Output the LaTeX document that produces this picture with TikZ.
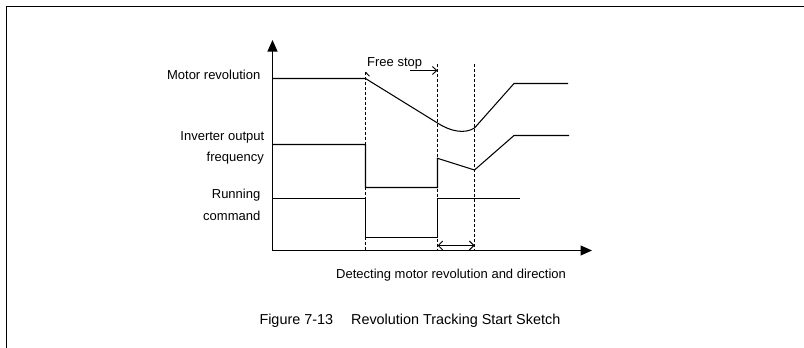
\documentclass[tikz,border=0pt]{standalone}
\usepackage{fontspec}
\setmainfont{Liberation Sans}
\usetikzlibrary{arrows.meta}
\begin{document}
\begin{tikzpicture}[x=1pt,y=-1pt,
  borderline/.style={line width=1.1pt},
  sig/.style={line width=1.05pt, line join=miter},
  guide/.style={line width=0.9pt, dash pattern=on 3pt off 2pt},
  axisline/.style={line width=1.05pt, -{Triangle[length=11.5pt,width=10pt]}},
  barb/.style={line width=0.9pt},
  lbl/.style={font=\fontsize{13}{15}\selectfont, inner sep=0pt, anchor=base east},
  txt/.style={font=\fontsize{13}{15}\selectfont, inner sep=0pt, anchor=base west},
  captext/.style={font=\fontsize{14.4}{17}\selectfont, inner sep=0pt, anchor=base west}]
\useasboundingbox (0,0) rectangle (804,348);
% frame (top and left edges only)
\coordinate (fbl) at (6.5,348);
\coordinate (ftl) at (6.5,6.5);
\coordinate (ftr) at (804,6.5);
\draw[borderline] (fbl) -- (ftl) -- (ftr);
% axes
\coordinate (O) at (272.5,250.5);
\coordinate (Ytip) at (272.5,40);
\coordinate (Xtip) at (592,250.5);
\draw[axisline] (O) -- (Ytip);
\draw[axisline] (O) -- (Xtip);
% dashed guides
\coordinate (d1t) at (365.5,71.5);
\coordinate (d1b) at (365.5,250.5);
\coordinate (d2t) at (437.5,63.5);
\coordinate (d2b) at (437.5,250.5);
\coordinate (d3t) at (474.5,64);
\coordinate (d3b) at (474.5,250.5);
\draw[guide] (d1t) -- (d1b);
\draw[guide] (d2t) -- (d2b);
\draw[guide] (d3t) -- (d3b);
% motor revolution
\coordinate (m0) at (272.5,78.5);
\coordinate (m1) at (365.5,78.5);
\coordinate (m2) at (437.5,123);
\coordinate (m3) at (474.5,128);
\coordinate (m4) at (514,83.5);
\coordinate (m5) at (568,83.5);
\draw[sig] (m0) -- (m1) -- (m2) .. controls (451,131.8) and (465,134) .. (m3) -- (m4) -- (m5);
% inverter output frequency
\coordinate (f0) at (272.5,144.5);
\coordinate (f1) at (365.5,144.5);
\coordinate (f2) at (365.5,187.5);
\coordinate (f3) at (437.5,187.5);
\coordinate (f4) at (437.5,158.3);
\coordinate (f5) at (474.5,170);
\coordinate (f6) at (514,135.5);
\coordinate (f7) at (569,135.5);
\draw[sig] (f0) -- (f1) -- (f2) -- (f3) -- (f4) -- (f5) -- (f6) -- (f7);
% running command
\coordinate (r0) at (272.5,198.5);
\coordinate (r1) at (365.5,198.5);
\coordinate (r2) at (365.5,237.5);
\coordinate (r3) at (437.5,237.5);
\coordinate (r4) at (437.5,198.5);
\coordinate (r5) at (520,198.5);
\draw[sig] (r0) -- (r1) -- (r2) -- (r3) -- (r4) -- (r5);
% free stop arrow
\coordinate (fsa) at (410,70.5);
\coordinate (fsb) at (437.5,70.5);
\draw[barb, -{Straight Barb[length=4.5pt,width=8pt]}] (fsa) -- (fsb);
\coordinate (tk0) at (365.7,72.3);
\coordinate (tk1) at (369.5,76.2);
\draw[barb] (tk0) -- (tk1);
% detection interval arrow
\coordinate (da) at (437.5,245.5);
\coordinate (db) at (474.5,245.5);
\draw[barb, {Straight Barb[length=4.5pt,width=9pt]}-{Straight Barb[length=4.5pt,width=9pt]}] (da) -- (db);
% labels
\node[lbl] (lmot) at (260.5,79.5) {Motor revolution};
\node[lbl] (linv1) at (264.5,140.5) {Inverter output};
\node[lbl] (linv2) at (264,161) {frequency};
\node[lbl] (lrun1) at (260.5,198.3) {Running};
\node[lbl] (lrun2) at (260.5,220) {command};
\node[txt] (lfree) at (367,66.5) {Free stop};
\node[txt] (ldet) at (336,278) {Detecting motor revolution and direction};
\node[captext] (lcap) at (259.3,324) {Figure 7-13\hspace{18pt}Revolution Tracking Start Sketch};
\end{tikzpicture}
\end{document}
